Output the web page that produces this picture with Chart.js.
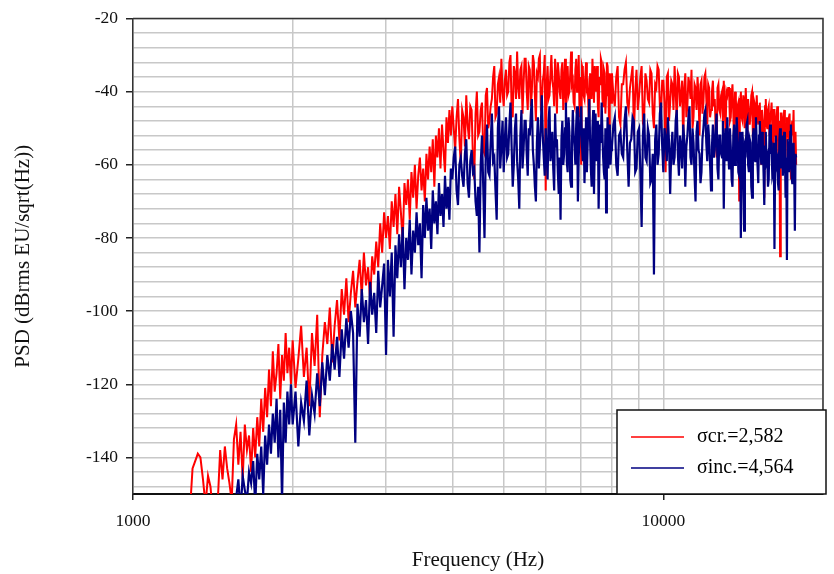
<!DOCTYPE html>
<html lang="en">
    <head>
        <meta charset="utf-8" />
        <title>PSD</title>
        <script src="https://cdn.jsdelivr.net/npm/chart.js"></script>
        <style>
            body { margin: 0; background: #fff; }
            #psdChart { display: block; }
        </style>
    </head>
    <body>
        <canvas id="psdChart" width="834" height="574"></canvas>
        <script>
            // frequency bins (Hz)
            const freqs = [
              1250,1265,1280,1295,1310,1325,1340,1355,1370,1385,
              1400,1415,1430,1445,1460,1475,1490,1505,1520,1535,
              1550,1565,1580,1595,1610,1625,1640,1655,1670,1685,
              1700,1715,1730,1745,1760,1775,1790,1805,1820,1835,
              1850,1865,1880,1895,1910,1925,1940,1955,1970,1985,
              2000,2025,2050,2075,2100,2125,2150,2175,2200,2225,
              2250,2275,2300,2325,2350,2375,2400,2425,2450,2475,
              2500,2525,2550,2575,2600,2625,2650,2675,2700,2725,
              2750,2775,2800,2825,2850,2875,2900,2925,2950,2975,
              3000,3025,3050,3075,3100,3125,3150,3175,3200,3225,
              3250,3275,3300,3325,3350,3375,3400,3425,3450,3475,
              3500,3525,3550,3575,3600,3625,3650,3675,3700,3725,
              3750,3775,3800,3825,3850,3875,3900,3925,3950,3975,
              4000,4025,4050,4075,4100,4125,4150,4175,4200,4225,
              4250,4275,4300,4325,4350,4375,4400,4425,4450,4475,
              4500,4525,4550,4575,4600,4625,4650,4675,4700,4725,
              4750,4775,4800,4825,4850,4875,4900,4925,4950,4975,
              5000,5025,5050,5075,5100,5125,5150,5175,5200,5225,
              5250,5275,5300,5325,5350,5375,5400,5425,5450,5475,
              5500,5525,5550,5575,5600,5625,5650,5675,5700,5725,
              5750,5775,5800,5825,5850,5875,5900,5925,5950,5975,
              6000,6025,6050,6075,6100,6125,6150,6175,6200,6225,
              6250,6275,6300,6325,6350,6375,6400,6425,6450,6475,
              6500,6525,6550,6575,6600,6625,6650,6675,6700,6725,
              6750,6775,6800,6825,6850,6875,6900,6925,6950,6975,
              7000,7025,7050,7075,7100,7125,7150,7175,7200,7225,
              7250,7275,7300,7325,7350,7375,7400,7425,7450,7475,
              7500,7525,7550,7575,7600,7625,7650,7675,7700,7725,
              7750,7775,7800,7825,7850,7875,7900,7925,7950,7975,
              8000,8050,8100,8150,8200,8250,8300,8350,8400,8450,
              8500,8550,8600,8650,8700,8750,8800,8850,8900,8950,
              9000,9050,9100,9150,9200,9250,9300,9350,9400,9450,
              9500,9550,9600,9650,9700,9750,9800,9850,9900,9950,
              10000,10050,10100,10150,10200,10250,10300,10350,10400,10450,
              10500,10550,10600,10650,10700,10750,10800,10850,10900,10950,
              11000,11050,11100,11150,11200,11250,11300,11350,11400,11450,
              11500,11550,11600,11650,11700,11750,11800,11850,11900,11950,
              12000,12050,12100,12150,12200,12250,12300,12350,12400,12450,
              12500,12550,12600,12650,12700,12750,12800,12850,12900,12950,
              13000,13050,13100,13150,13200,13250,13300,13350,13400,13450,
              13500,13550,13600,13650,13700,13750,13800,13850,13900,13950,
              14000,14050,14100,14150,14200,14250,14300,14350,14400,14450,
              14500,14550,14600,14650,14700,14750,14800,14850,14900,14950,
              15000,15050,15100,15150,15200,15250,15300,15350,15400,15450,
              15500,15550,15600,15650,15700,15750,15800,15850,15900,15950,
              16000,16050,16100,16150,16200,16250,16300,16350,16400,16450,
              16500,16550,16600,16650,16700,16750,16800,16850,16900,16950,
              17000,17050,17100,17150,17200,17250,17300,17350,17400,17450,
              17500,17550,17600,17650,17700,17750,17800
            ];

            // sigma cr. = 2,582 (red)
            const psdCr = [
              -160,-158,-155,-143,-141,-139,-140,-146,-153,-145,
              -148,-156,-155,-152,-138,-146,-137,-143,-147,-152,
              -135,-131,-142,-133,-146,-131,-138,-134,-144,-132,
              -140,-129,-137,-124,-133,-121,-129,-116,-126,-111,
              -122,-117,-109,-124,-112,-119,-106,-117,-110,-120,
              -108,-121,-113,-104,-118,-110,-126,-106,-115,-101,
              -129,-112,-103,-109,-99,-114,-104,-97,-108,-94,
              -101,-91,-103,-95,-89,-99,-92,-86,-96,-84,
              -93,-88,-97,-85,-90,-81,-88,-76,-84,-73,
              -80,-74,-83,-70,-77,-68,-79,-66,-73,-81,
              -65,-71,-64,-75,-62,-69,-60,-72,-63,-58,
              -67,-61,-70,-57,-64,-55,-62,-53,-66,-52,
              -58,-50,-61,-49,-56,-62,-47,-54,-45,-52,
              -44,-50,-56,-47,-42,-53,-60,-45,-47,-55,
              -41,-49,-53,-44,-45,-58,-64,-46,-40,-52,
              -51,-45,-43,-56,-57,-41,-39,-50,-48,-44,
              -42,-36,-33,-47,-46,-38,-36,-43,-31,-40,
              -44,-37,-34,-41,-40,-32,-30,-45,-47,-33,
              -35,-42,-29,-39,-42,-34,-33,-46,-38,-31,
              -31,-40,-45,-33,-34,-44,-40,-30,-32,-41,
              -48,-35,-36,-31,-30,-44,-43,-37,-35,-30,
              -67,-38,-33,-42,-41,-35,-30,-37,-39,-44,
              -31,-36,-46,-32,-35,-40,-42,-34,-32,-45,
              -38,-31,-45,-39,-33,-41,-40,-35,-29,-38,
              -37,-43,-44,-34,-31,-40,-39,-30,-47,-36,
              -60,-33,-34,-41,-42,-36,-32,-39,-38,-45,
              -49,-35,-35,-42,-31,-37,-43,-33,-36,-40,
              -33,-44,-47,-36,-38,-31,-32,-42,-44,-34,
              -35,-46,-41,-32,-33,-38,-50,-35,-37,-43,
              -35,-41,-44,-36,-33,-47,-49,-38,-38,-34,
              -32,-43,-45,-39,-36,-33,-52,-40,-34,-45,
              -41,-36,-33,-48,-47,-35,-37,-42,-43,-34,
              -35,-46,-50,-38,-39,-33,-34,-44,-46,-37,
              -37,-43,-62,-36,-35,-48,-43,-37,-38,-45,
              -33,-40,-48,-35,-36,-44,-41,-37,-55,-39,
              -35,-47,-44,-36,-38,-42,-34,-50,-47,-38,
              -39,-45,-36,-41,-52,-38,-37,-46,-43,-36,
              -35,-42,-49,-38,-39,-47,-45,-40,-37,-44,
              -42,-50,-58,-39,-38,-45,-46,-41,-40,-48,
              -37,-44,-51,-40,-41,-39,-39,-48,-47,-41,
              -38,-46,-55,-40,-42,-49,-44,-43,-70,-42,
              -40,-47,-48,-41,-43,-50,-39,-45,-53,-42,
              -42,-49,-46,-41,-40,-52,-57,-43,-44,-48,
              -41,-47,-49,-44,-43,-51,-60,-45,-45,-50,
              -69,-44,-42,-49,-50,-45,-44,-52,-47,-46,
              -43,-50,-56,-45,-45,-52,-51,-47,-44,-53,
              -62,-48,-85,-46,-46,-55,-52,-47,-45,-54,
              -58,-49,-47,-51,-53,-47,-46,-56,-64,-50,
              -48,-52,-45,-57,-55,-51,-60
            ];

            // sigma inc. = 4,564 (blue)
            const psdInc = [
              -165,-165,-165,-165,-165,-165,-165,-165,-165,-165,
              -165,-165,-165,-165,-165,-165,-165,-165,-165,-165,
              -158,-151,-146,-155,-145,-149,-152,-144,-147,-141,
              -153,-139,-146,-137,-150,-134,-142,-131,-139,-128,
              -136,-124,-140,-127,-152,-125,-136,-122,-131,-120,
              -131,-122,-137,-125,-130,-119,-134,-123,-128,-117,
              -126,-114,-123,-112,-119,-109,-116,-107,-118,-105,
              -113,-102,-110,-100,-106,-136,-98,-107,-94,-103,
              -97,-109,-92,-101,-95,-106,-89,-99,-93,-87,
              -112,-86,-96,-84,-107,-82,-91,-79,-88,-77,
              -94,-80,-86,-75,-90,-78,-84,-73,-82,-76,
              -91,-71,-80,-69,-78,-72,-83,-67,-76,-70,
              -79,-65,-74,-68,-77,-63,-72,-66,-75,-61,
              -64,-58,-55,-67,-71,-60,-58,-63,-66,-57,
              -53,-65,-69,-59,-56,-62,-61,-70,-74,-66,
              -84,-60,-52,-66,-80,-57,-49,-62,-63,-54,
              -46,-59,-58,-67,-75,-50,-44,-61,-55,-48,
              -62,-53,-47,-58,-57,-49,-43,-55,-66,-60,
              -50,-46,-59,-64,-72,-52,-45,-61,-56,-48,
              -48,-57,-63,-50,-52,-46,-42,-56,-60,-66,
              -70,-54,-47,-61,-55,-49,-41,-52,-58,-63,
              -50,-57,-64,-48,-44,-59,-56,-51,-61,-67,
              -46,-55,-53,-62,-68,-58,-75,-53,-48,-60,
              -57,-50,-43,-59,-62,-47,-51,-64,-66,-54,
              -45,-52,-55,-60,-49,-44,-70,-58,-52,-47,
              -44,-55,-59,-50,-65,-57,-47,-62,-54,-49,
              -42,-53,-61,-66,-50,-45,-68,-55,-46,-59,
              -56,-48,-72,-60,-49,-54,-43,-51,-58,-62,
              -64,-50,-73,-57,-47,-61,-53,-49,-60,-56,
              -55,-49,-47,-60,-63,-52,-51,-57,-58,-48,
              -44,-56,-66,-54,-53,-47,-48,-62,-61,-51,
              -50,-62,-77,-52,-46,-58,-59,-50,-52,-65,
              -64,-57,-90,-53,-49,-60,-57,-46,-43,-55,
              -62,-50,-53,-59,-47,-54,-68,-56,-51,-60,
              -58,-48,-45,-57,-63,-52,-55,-61,-49,-53,
              -66,-55,-52,-47,-44,-58,-60,-50,-54,-63,
              -70,-51,-48,-56,-57,-65,-62,-53,-50,-46,
              -45,-54,-59,-49,-53,-60,-67,-55,-49,-58,
              -56,-50,-46,-61,-64,-52,-52,-57,-58,-48,
              -72,-54,-50,-59,-47,-56,-61,-50,-55,-64,
              -66,-52,-49,-60,-58,-47,-53,-62,-63,-51,
              -80,-57,-51,-62,-78,-55,-56,-49,-48,-60,
              -62,-53,-54,-66,-69,-52,-50,-57,-59,-47,
              -55,-60,-65,-52,-48,-56,-60,-51,-53,-62,
              -71,-55,-51,-59,-58,-66,-64,-52,-49,-57,
              -56,-63,-62,-54,-83,-58,-52,-60,-59,-65,
              -67,-53,-50,-61,-57,-52,-63,-59,-51,-56,
              -69,-58,-86,-53,-55,-62,-60,-51,-49,-63,
              -65,-55,-54,-62,-78,-57,-58
            ];

            const xTickValues = [1000,2000,3000,4000,5000,6000,7000,8000,9000,10000,20000];
            const xLabelValues = [1000,10000];
            const yTickValues = [-150,-148,-144,-140,-136,-132,-128,-124,-120,-116,-112,-108,-104,-100,
                                 -96,-92,-88,-84,-80,-76,-72,-68,-64,-60,-56,-52,-48,-44,-40,-36,-32,-28,-24,-20];
            const yLabelValues = [-140,-120,-100,-80,-60,-40,-20];
            const seriesNames = ['σcr.=2,582', 'σinc.=4,564'];
            const seriesColors = ['#ff0000', '#000080'];

            const serif = 'Liberation Serif, Times New Roman, serif';

            // frame round the plot + boxed legend in the lower right corner
            const frameAndLegend = {
              id: 'frameAndLegend',
              afterDatasetsDraw(chart) {
                const { ctx, chartArea: a } = chart;
                ctx.save();
                ctx.strokeStyle = '#333';
                ctx.lineWidth = 1.5;
                ctx.beginPath();
                ctx.moveTo(a.left, a.top);
                ctx.lineTo(a.right, a.top);
                ctx.lineTo(a.right, a.bottom);
                ctx.stroke();

                const w = 209, h = 84;
                const x0 = a.right - 206, y0 = a.bottom - h;
                ctx.fillStyle = '#fff';
                ctx.fillRect(x0, y0, w, h);
                ctx.strokeStyle = '#111';
                ctx.lineWidth = 1.5;
                ctx.strokeRect(x0, y0, w, h);

                ctx.font = '20px ' + serif;
                ctx.textBaseline = 'middle';
                ctx.textAlign = 'left';
                seriesNames.forEach((name, i) => {
                  const y = y0 + 27 + i * 31;
                  ctx.strokeStyle = seriesColors[i];
                  ctx.lineWidth = 1.5;
                  ctx.beginPath();
                  ctx.moveTo(x0 + 14, y);
                  ctx.lineTo(x0 + 67, y);
                  ctx.stroke();
                  ctx.fillStyle = '#000';
                  ctx.fillText(name, x0 + 80, y);
                });
                ctx.restore();
              }
            };

            new Chart(document.getElementById('psdChart'), {
              type: 'line',
              data: {
                datasets: [
                  {
                    label: seriesNames[0],
                    data: freqs.map((f, i) => ({ x: f, y: psdCr[i] })),
                    borderColor: seriesColors[0],
                    borderWidth: 2,
                    order: 1
                  },
                  {
                    label: seriesNames[1],
                    data: freqs.map((f, i) => ({ x: f, y: psdInc[i] })),
                    borderColor: seriesColors[1],
                    borderWidth: 2.2,
                    order: 0
                  }
                ]
              },
              options: {
                responsive: false,
                devicePixelRatio: 1,
                animation: false,
                layout: { padding: { top: 17, right: 8, left: 0, bottom: 0 } },
                plugins: { legend: { display: false }, tooltip: { enabled: false } },
                elements: { point: { radius: 0 }, line: { tension: 0, fill: false } },
                scales: {
                  x: {
                    type: 'logarithmic',
                    min: 1000,
                    max: 20000,
                    afterBuildTicks: s => { s.ticks = xTickValues.map(v => ({ value: v })); },
                    afterFit: s => { s.height = 80; },
                    grid: {
                      color: '#c8c8c8',
                      lineWidth: 1.5,
                      tickLength: 6,
                      tickWidth: 1.5,
                      tickColor: c => (c.tick && xLabelValues.includes(c.tick.value)) ? '#222' : 'rgba(0,0,0,0)'
                    },
                    border: { color: '#111', width: 2 },
                    ticks: {
                      autoSkip: false,
                      maxRotation: 0,
                      padding: 11,
                      color: '#111',
                      font: { family: serif, size: 17.5 },
                      callback: v => xLabelValues.includes(v) ? String(v) : ''
                    },
                    title: {
                      display: true,
                      text: 'Frequency (Hz)',
                      color: '#111',
                      font: { family: serif, size: 21 },
                      padding: { top: 0, bottom: 1 }
                    }
                  },
                  y: {
                    min: -150,
                    max: -20,
                    afterBuildTicks: s => { s.ticks = yTickValues.map(v => ({ value: v })); },
                    afterFit: s => { s.width = 133; },
                    grid: {
                      color: '#c8c8c8',
                      lineWidth: 1.5,
                      tickLength: 7,
                      tickWidth: 1.5,
                      tickColor: c => (c.tick && yLabelValues.includes(c.tick.value)) ? '#222' : 'rgba(0,0,0,0)'
                    },
                    border: { color: '#333', width: 1.5 },
                    ticks: {
                      autoSkip: false,
                      padding: 8,
                      color: '#111',
                      font: { family: serif, size: 17.5 },
                      callback: v => yLabelValues.includes(v) ? String(v) : ''
                    },
                    title: {
                      display: true,
                      text: 'PSD (dBrms EU/sqrt(Hz))',
                      color: '#111',
                      font: { family: serif, size: 21 },
                      padding: { top: 11, bottom: 0 }
                    }
                  }
                }
              },
              plugins: [frameAndLegend]
            });
        </script>
    </body>
</html>
